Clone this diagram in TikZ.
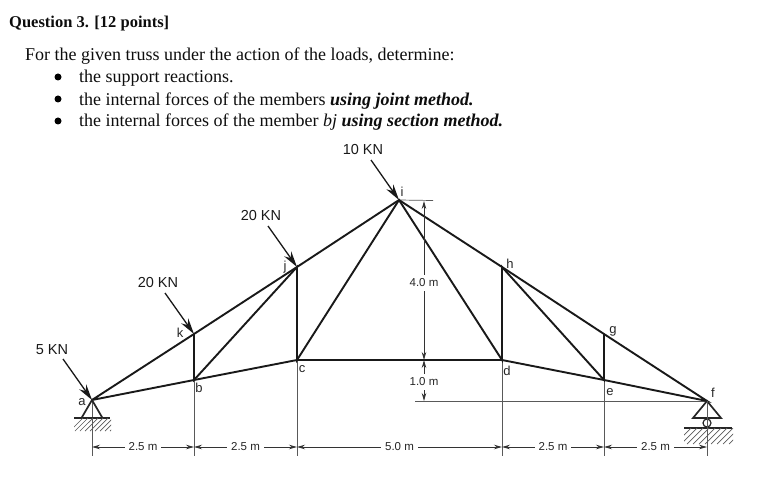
\documentclass[tikz,border=0pt]{standalone}
\usepackage{fontspec}
\setmainfont{Liberation Serif}
\setsansfont{Liberation Sans}
\usetikzlibrary{arrows.meta}
\tikzset{
  x=1pt,y=-1pt,
  member/.style={line width=1.9pt,black!90,line cap=round},
  thin line/.style={line width=0.7pt,black!65},
  load/.style={line width=1.3pt,black!90,-{Stealth[length=16pt,width=8.5pt]},shorten <=0pt},
  dimen/.style={line width=0.8pt,black!80,{Stealth[length=8pt,width=4.5pt]}-{Stealth[length=8pt,width=4.5pt]}},
  dimlabel/.style={font=\sffamily\fontsize{11.5}{13}\selectfont,text=black!85,fill=white,inner xsep=4pt,inner ysep=4pt},
  loadlabel/.style={font=\sffamily\fontsize{14.5}{16}\selectfont,text=black!90,inner sep=0pt},
  joint/.style={font=\sffamily\fontsize{13}{15}\selectfont,text=black!85,inner sep=0pt},
  txt/.style={anchor=base west,inner sep=0pt,font=\fontsize{18}{21}\selectfont,text=black!95},
  dot/.style={circle,fill=black,inner sep=0pt,minimum size=7pt},
  support/.style={line width=1.7pt,black!85},
  hatch/.style={line width=0.7pt,black!65}
}
\begin{document}
\begin{tikzpicture}
\useasboundingbox (0,0) rectangle (781,481);
% text
\node[txt,font=\bfseries\fontsize{16.5}{19}\selectfont] (q) at (9,28) {Question 3. [12 points]};
\node[txt] (intro) at (25,61) {For the given truss under the action of the loads, determine:};
\node[dot] (b1) at (58,77) {};
\node[txt] (l1) at (79,83) {the support reactions.};
\node[dot] (b2) at (58,99) {};
\node[txt] (l2) at (79,105.5) {the internal forces of the members \textbf{\textit{using joint method.}}};
\node[dot] (b3) at (58,121) {};
\node[txt] (l3) at (79,127) {the internal forces of the member \textit{bj} \textbf{\textit{using section method.}}};
% joints
\coordinate (a) at (92,400);
\coordinate (b) at (194,380);
\coordinate (c) at (297,360);
\coordinate (d) at (502,360);
\coordinate (e) at (604,380);
\coordinate (f) at (707,401);
\coordinate (g) at (604,334);
\coordinate (h) at (502,267);
\coordinate (i) at (399,200);
\coordinate (j) at (297,267);
\coordinate (k) at (194,334);
% helper lines
\coordinate (adim) at (92,456);
\coordinate (bdim) at (194,456);
\coordinate (cdim) at (297,456);
\coordinate (ddim) at (502,456);
\coordinate (edim) at (604,456);
\coordinate (fdim) at (707,456);
\foreach \p/\q in {a/adim,b/bdim,c/cdim,d/ddim,e/edim,f/fdim}
  \draw[thin line] (\p) -- (\q);
\coordinate (itop) at (433,200.5);
\coordinate (hstart) at (415,401);
\draw[thin line] (i) -- (itop);
\draw[thin line] (hstart) -- (f);
% members
\draw[member] (a) -- (k) -- (j) -- (i) -- (h) -- (g) -- (f) -- (e) -- (d) -- (c) -- (b) -- (a);
\draw[member] (k) -- (b) -- (j) -- (c) -- (i) -- (d) -- (h) -- (e) -- (g);
% dimensions
\foreach \p/\q/\nm/\tx in {a/b/da/2.5 m,b/c/db/2.5 m,c/d/dc/5.0 m,d/e/dd/2.5 m,e/f/de/2.5 m}{
  \coordinate (L\nm) at (\p |- 0,447);
  \coordinate (R\nm) at (\q |- 0,447);
  \draw[dimen] (L\nm) -- node[dimlabel] (\nm) {\tx} (R\nm);
}
\coordinate (v1) at (424,201);
\coordinate (v2) at (424,360);
\coordinate (v3) at (424,401);
\draw[dimen] (v1) -- node[dimlabel,pos=0.515] (four) {4.0 m} (v2);
\draw[dimen] (v2) -- node[dimlabel,pos=0.53] (one) {1.0 m} (v3);
% loads
\coordinate (la) at (63,359);
\coordinate (lk) at (165,293);
\coordinate (lj) at (268,226);
\coordinate (li) at (371,160);
\draw[load] (la) -- (a);
\draw[load] (lk) -- (k);
\draw[load] (lj) -- (j);
\draw[load] (li) -- (i);
\node[loadlabel] (t5) at (52,349.5) {5 KN};
\node[loadlabel] (t20a) at (158,282.5) {20 KN};
\node[loadlabel] (t20b) at (261,216) {20 KN};
\node[loadlabel] (t10) at (363,149.5) {10 KN};
% joint labels
\node[joint] (na) at (82,402) {a};
\node[joint] (nb) at (199,388) {b};
\node[joint] (nc) at (302,369) {c};
\node[joint] (nd) at (507,371) {d};
\node[joint] (ne) at (610,392) {e};
\node[joint] (nf) at (713,393) {f};
\node[joint] (ng) at (613,331) {g};
\node[joint] (nh) at (510,264) {h};
\node[joint] (ni) at (402,192) {i};
\node[joint] (nj) at (285,267) {j};
\node[joint] (nk) at (180,333) {k};
% left support
\coordinate (a1) at (81.5,418);
\coordinate (a2) at (102.5,418);
\draw[support] (a1) -- (a) -- (a2);
\coordinate (ag1) at (74,418);
\coordinate (ag2) at (110,418);
\draw[support] (ag1) -- (ag2);
\begin{scope}
\clip (74,418) rectangle (111,431);
\foreach \s in {70,75,...,125} \draw[hatch] (\s,431) -- (\s+13,418);
\end{scope}
% right support
\coordinate (f1) at (693,418);
\coordinate (f2) at (721,418);
\draw[support] (f1) -- (f) -- (f2) -- cycle;
\node[draw=black!85,line width=1.2pt,circle,minimum size=8pt,inner sep=0pt] (roller) at (707,423) {};
\coordinate (fg1) at (684,428);
\coordinate (fg2) at (732,428);
\draw[support] (fg1) -- (fg2);
\begin{scope}
\clip (684,428) rectangle (733,444);
\foreach \s in {675,681,...,735} \draw[hatch] (\s,444) -- (\s+16,428);
\end{scope}
\draw[thin line] (f) -- (fdim);
\end{tikzpicture}
\end{document}
